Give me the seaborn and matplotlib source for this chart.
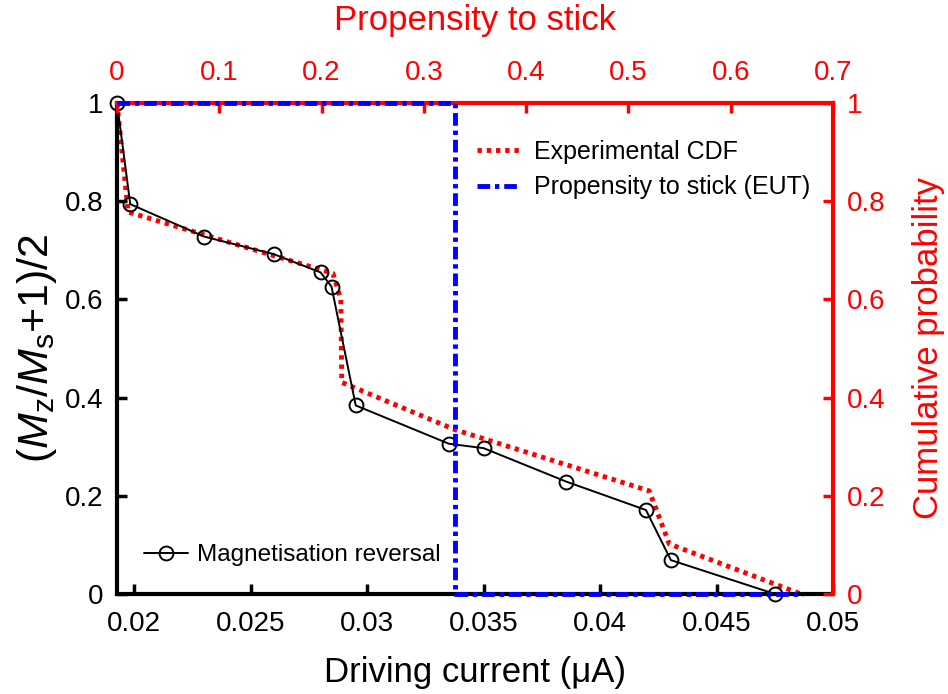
import seaborn as sns
import matplotlib
matplotlib.use("Agg")
import matplotlib.pyplot as plt
from matplotlib.lines import Line2D

# Magnetisation reversal (bottom axis, driving current in uA)
corrente = [0.01926, 0.01983, 0.02300, 0.02600, 0.02800, 0.02847, 0.02951,
            0.03351, 0.03500, 0.03854, 0.04197, 0.04304, 0.04751]
magnet = [1.0, 0.794, 0.728, 0.692, 0.655, 0.626, 0.384,
          0.306, 0.297, 0.229, 0.171, 0.069, 0.0]

# Experimental CDF
cdf_x = [0.01926, 0.01974, 0.02853, 0.02887, 0.02891, 0.03375, 0.04211, 0.04297, 0.04862]
cdf_y = [1.0, 0.778, 0.653, 0.600, 0.431, 0.335, 0.210, 0.102, 0.0]

# Propensity to stick (EUT), top axis
prop_x = [0.0, 0.330, 0.330, 0.671]
prop_y = [1.0, 1.0, 0.0, 0.0]

ticks_base = [0.02, 0.025, 0.03, 0.035, 0.04, 0.045, 0.05]
rotulos_base = ["0.02", "0.025", "0.03", "0.035", "0.04", "0.045", "0.05"]
ticks_y = [0, 0.2, 0.4, 0.6, 0.8, 1]
rotulos_y = ["0", "0.2", "0.4", "0.6", "0.8", "1"]
ticks_topo = [0, 0.1, 0.2, 0.3, 0.4, 0.5, 0.6, 0.7]
rotulos_topo = ["0", "0.1", "0.2", "0.3", "0.4", "0.5", "0.6", "0.7"]

sns.set_style("white")
plt.rcParams['font.family'] = ['Liberation Sans', 'DejaVu Sans']
plt.rcParams['mathtext.fontset'] = 'custom'
plt.rcParams['mathtext.rm'] = 'Liberation Sans'
plt.rcParams['mathtext.it'] = 'Liberation Sans:italic'
plt.rcParams['text.color'] = 'black'
plt.rcParams['axes.labelcolor'] = 'black'

TAM_TICK = 20
TAM_ROT = 25
TAM_LEG = 18
LW = 3.5

fig = plt.figure(figsize=(9.48, 6.94), dpi=100)
ax = fig.add_axes([0.1234, 0.1441, 0.7553, 0.7075])
ax2 = ax.twinx()
ax3 = ax.twiny()

# Curva experimental (CDF)
sns.lineplot(x=cdf_x, y=cdf_y, ax=ax, color="red", linewidth=LW, sort=False,
             estimator=None, label="Experimental CDF", legend=False)
linha_cdf = ax.lines[-1]
linha_cdf.set_dashes([0.9, 1.0])

# Magnetização
sns.lineplot(x=corrente, y=magnet, ax=ax, color="black", linewidth=1.4, sort=False,
             estimator=None, marker="o", markersize=10, markerfacecolor="none",
             markeredgecolor="black", markeredgewidth=1.4,
             label="Magnetisation reversal", legend=False)
linha_mag = ax.lines[-1]
linha_mag.set_clip_on(False)

# Propensão (eixo superior)
sns.lineplot(x=prop_x, y=prop_y, ax=ax3, color="blue", linewidth=LW, sort=False,
             estimator=None, label="Propensity to stick (EUT)", legend=False)
linha_prop = ax3.lines[-1]
linha_prop.set_dashes([2.6, 1.0, 0.9, 1.0])
linha_prop.set_clip_on(False)
linha_prop.set_zorder(3)

ax.set_xlim(0.01926, 0.05)
ax.set_ylim(0, 1)
ax2.set_ylim(0, 1)
ax3.set_xlim(0, 0.7)

ax.set_xticks(ticks_base)
ax.set_xticklabels(rotulos_base)
ax.set_yticks(ticks_y)
ax.set_yticklabels(rotulos_y)
ax2.set_yticks(ticks_y)
ax2.set_yticklabels(rotulos_y)
ax3.set_xticks(ticks_topo)
ax3.set_xticklabels(rotulos_topo)

ax.tick_params(axis="both", direction="in", length=7, width=2.5, colors="black",
               labelsize=TAM_TICK, pad=10)
ax.tick_params(axis="x", pad=12)
ax2.tick_params(axis="y", direction="in", length=7, width=2.5, colors="red",
                labelsize=TAM_TICK, pad=10)
ax3.tick_params(axis="x", direction="in", length=7, width=2.5, colors="red",
                labelsize=TAM_TICK, pad=12)

for a in (ax, ax2, ax3):
    for s in a.spines.values():
        s.set_visible(False)
        s.set_linewidth(3)
ax.spines["left"].set_visible(True)
ax.spines["left"].set_color("black")
ax.spines["bottom"].set_visible(True)
ax.spines["bottom"].set_color("black")
ax2.spines["right"].set_visible(True)
ax2.spines["right"].set_color("red")
ax3.spines["top"].set_visible(True)
ax3.spines["top"].set_color("red")

ax.set_xlabel("Driving current (μA)", fontsize=TAM_ROT, labelpad=14)
ax.set_ylabel(r"($\mathit{M}_{\rm z}$/$\mathit{M}_{\rm s}$+1)/2", fontsize=31, labelpad=4)
ax2.set_ylabel("Cumulative probability", fontsize=TAM_ROT, color="red", labelpad=19)
ax3.set_xlabel("Propensity to stick", fontsize=TAM_ROT, color="red", labelpad=22)

# Legendas
h_cdf = Line2D([], [], color="red", linewidth=LW, dashes=[0.9, 1.0])
h_prop = Line2D([], [], color="blue", linewidth=LW, dashes=[2.6, 1.0, 0.9, 1.0])
h_mag = Line2D([], [], color="black", linewidth=1.4, marker="o", markersize=10,
               markerfacecolor="none", markeredgewidth=1.4)
leg1 = ax3.legend([h_cdf, h_prop], ["Experimental CDF", "Propensity to stick (EUT)"],
                  loc="upper right", bbox_to_anchor=(0.999, 0.97), frameon=False,
                  fontsize=TAM_LEG, handlelength=1.7, handletextpad=0.55, labelspacing=0.45)
leg2 = ax3.legend([h_mag], ["Magnetisation reversal"], loc="lower left",
                  bbox_to_anchor=(0.007, 0.012), frameon=False, fontsize=17.5,
                  handlelength=1.8, handletextpad=0.4)
ax3.add_artist(leg1)

plt.savefig("out.png", dpi=100)
